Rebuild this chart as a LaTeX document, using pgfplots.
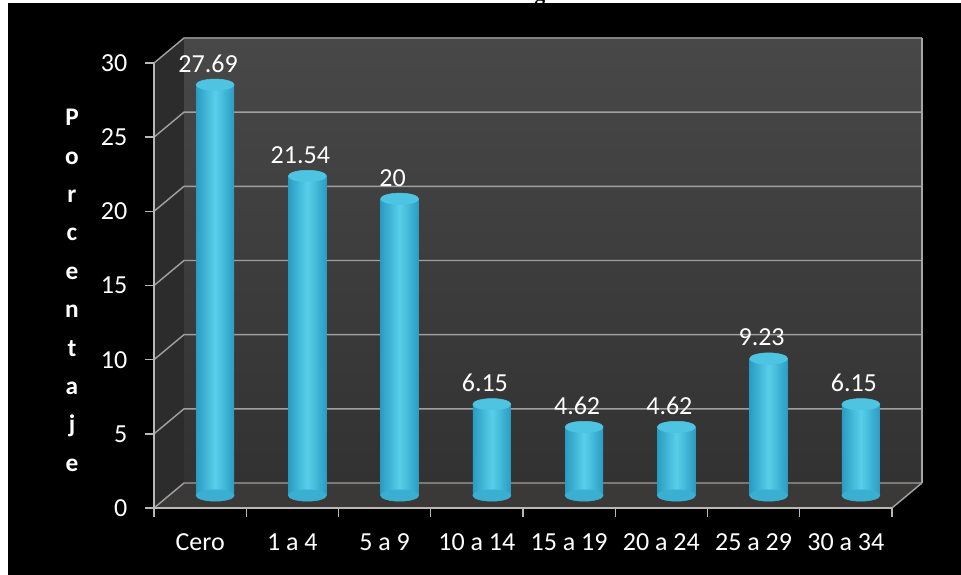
\documentclass[border=0pt]{standalone}
\usepackage{pgfplots}
\usepackage{pgfplotstable}
\pgfplotsset{compat=1.18}
\usepackage{fontspec}
\setmainfont{Carlito}
\newfontfamily\titlefont{Liberation Serif}

\definecolor{wallTop}{HTML}{484848}
\definecolor{wallBottom}{HTML}{323232}
\definecolor{sideWall}{HTML}{2C2C2C}
\definecolor{floorGray}{HTML}{3B3838}
\definecolor{gridGray}{HTML}{A0A0A0}
\definecolor{axisGray}{HTML}{B8B8B8}
\definecolor{barEdge}{HTML}{2A9CC2}
\definecolor{barMid}{HTML}{58CFEA}
\definecolor{barTop}{HTML}{4CC4E2}
\definecolor{barBase}{HTML}{3AAFD2}

% percentage of cases per interval
\pgfplotstableread{
idx value
0 27.69
1 21.54
2 20
3 6.15
4 4.62
5 4.62
6 9.23
7 6.15
}\intervals

\tikzset{back/.style={shift={(22.5pt,18.75pt)}}}

\begin{document}
\begin{tikzpicture}
\useasboundingbox (0,0) rectangle (720.75pt,431.25pt);
\fill[white] (0,0) rectangle (720.75pt,431.25pt);
\node[anchor=base, inner sep=0pt, font=\titlefont\fontsize{16}{18}\selectfont\bfseries] at (405pt,430.8pt) {g};
\fill[black] (6pt,0) rectangle (720.75pt,429pt);

% front plane: frame, walls, ticks and labels
\begin{axis}[
  at={(115.5pt,50.25pt)}, anchor=south west,
  scale only axis, width=553.5pt, height=333.75pt,
  xmin=-0.5, xmax=7.5, ymin=0, ymax=30,
  clip=false, axis on top=true,
  axis x line*=bottom, axis y line*=left,
  axis line style={axisGray, line width=1.1pt, -},
  xtick={-0.5,0.5,...,7.5}, xticklabels={},
  extra x ticks={0,1,...,7},
  extra x tick labels={Cero, 1 a 4, 5 a 9, 10 a 14, 15 a 19, 20 a 24, 25 a 29, 30 a 34},
  extra x tick style={major tick length=0pt},
  ytick={0,5,...,30},
  tick style={axisGray, line width=1.1pt},
  tick align=outside, major tick length=6.75pt,
  ticklabel style={font=\fontsize{19.5}{22}\selectfont, text=white},
  xticklabel style={yshift=-15.5pt},
  yticklabel style={xshift=-9.75pt},
  /pgf/number format/assume math mode=true,
]
\fill[sideWall] (axis cs:-0.5,0) -- (axis cs:-0.5,30) -- ([back]axis cs:-0.5,30) -- ([back]axis cs:-0.5,0) -- cycle;
\shade[top color=wallTop, bottom color=wallBottom] ([back]axis cs:-0.5,0) rectangle ([back]axis cs:7.5,30);
\fill[floorGray] (axis cs:-0.5,0) -- (axis cs:7.5,0) -- ([back]axis cs:7.5,0) -- ([back]axis cs:-0.5,0) -- cycle;
\pgfplotsinvokeforeach{0,5,10,15,20,25,30}{
  \draw[gridGray, line width=1.1pt] (axis cs:-0.5,#1) -- ([back]axis cs:-0.5,#1) -- ([back]axis cs:7.5,#1);
}
\draw[gridGray, line width=1.1pt] (axis cs:7.5,0) -- ([back]axis cs:7.5,0);
\draw[gray!70, line width=0.8pt] ([back]axis cs:7.5,0) -- ([back]axis cs:7.5,30);
\end{axis}

% cylinders, set halfway into the depth of the chart
\begin{axis}[
  at={(126.75pt,59.625pt)}, anchor=south west,
  scale only axis, width=553.5pt, height=333.75pt,
  xmin=-0.5, xmax=7.5, ymin=0, ymax=30,
  axis lines=none, clip=false,
]
\addplot[barBase, only marks, mark=*, mark size=14.25pt,
  mark options={yscale=0.3, fill=barBase, draw=barBase}]
  coordinates {(0,0) (1,0) (2,0) (3,0) (4,0) (5,0) (6,0) (7,0)};
\pgfplotsinvokeforeach{0,1,...,7}{
  \addplot[ybar, bar shift=0pt, bar width=28.5pt, draw=none,
    left color=barEdge, right color=barEdge, middle color=barMid,
    restrict x to domain=#1:#1]
    table[x=idx, y=value] {\intervals};
}
\addplot[barTop, only marks, mark=*, mark size=14.25pt,
  mark options={yscale=0.3, fill=barTop, draw=barTop}]
  table[x=idx, y=value] {\intervals};
\addplot[draw=none, mark=none, nodes near coords,
  nodes near coords style={anchor=center, text=white, xshift=-5.25pt, yshift=15.75pt,
    font=\fontsize{19.5}{22}\selectfont,
    /pgf/number format/fixed, /pgf/number format/precision=2,
    /pgf/number format/assume math mode=true}]
  table[x=idx, y=value] {\intervals};
\end{axis}

\node[anchor=north, inner sep=0pt, align=center, text=white,
  font=\bfseries\fontsize{19}{28.8}\selectfont] at (54pt,349.5pt)
  {P\\o\\r\\c\\e\\n\\t\\a\\j\\e};
\end{tikzpicture}
\end{document}
